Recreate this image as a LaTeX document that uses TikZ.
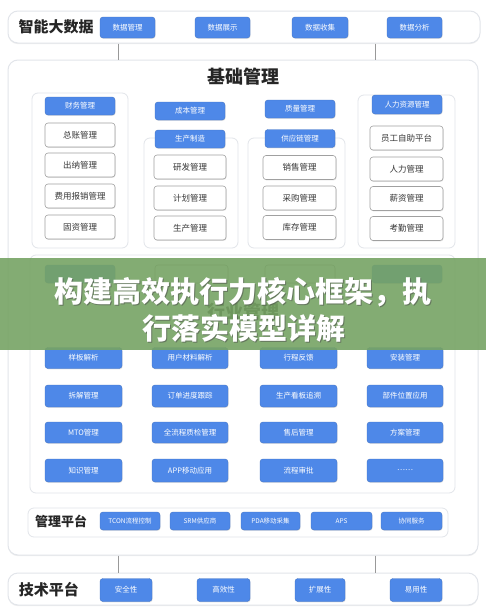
\documentclass[tikz,border=0pt]{standalone}
\usepackage{fontspec}
\setmainfont{Noto Sans CJK SC}
\usetikzlibrary{shadows}
\definecolor{btnblue}{RGB}{78,136,232}
\definecolor{panelline}{RGB}{226,229,234}
\definecolor{boxline}{RGB}{160,160,160}
\definecolor{bannergreen}{RGB}{118,163,100}
\definecolor{txt}{RGB}{55,55,55}
\tikzset{
  shade1/.style={drop shadow={opacity=0.22,shadow xshift=0.6pt,shadow yshift=-0.9pt}},
  bluebtn/.style={shade1,rounded corners=3pt,fill=btnblue,draw=btnblue!85!black,line width=0.4pt,text=white,font=\fontsize{7.5}{7.5}\selectfont,inner sep=0pt},
  whitebox/.style={shade1,rounded corners=3pt,fill=white,draw=boxline,line width=0.6pt,text=txt,font=\fontsize{8.5}{8.5}\selectfont,inner sep=0pt},
  panel/.style={rounded corners=6pt,draw=panelline,fill=white,line width=0.8pt},
  bar/.style={drop shadow={opacity=0.12,shadow xshift=0pt,shadow yshift=-1.2pt},rounded corners=10pt,draw=panelline,fill=white,line width=1pt},
  conn/.style={draw=gray!80,line width=0.8pt},
  bartitle/.style={font=\bfseries\fontsize{15}{15}\selectfont,text=black!85},
  sectitle/.style={font=\bfseries\fontsize{18}{18}\selectfont,text=black!85},
  bigtitle/.style={font=\bfseries\fontsize{29}{29}\selectfont,text=white},
  bigshadow/.style={font=\bfseries\fontsize{29}{29}\selectfont,text=black!70,opacity=0.55},
}
\begin{document}
\begin{tikzpicture}[x=1pt,y=-1pt]
\useasboundingbox[fill=white] (0,0) rectangle (486,616);
% top bar
\node[bar,minimum width=472pt,minimum height=32pt] (top) at (244,27) {};
\node[bartitle] (toptitle) at (56,27) {智能大数据};
\node[bluebtn,minimum width=55pt,minimum height=21pt] (t1) at (127.5,27.5) {数据管理};
\node[bluebtn,minimum width=55pt,minimum height=21pt] (t2) at (222.5,27.5) {数据展示};
\node[bluebtn,minimum width=56pt,minimum height=21pt] (t3) at (320,27.5) {数据收集};
\node[bluebtn,minimum width=55pt,minimum height=21pt] (t4) at (414.5,27.5) {数据分析};
% outer box
\node[bar,minimum width=470pt,minimum height=495pt] (outer) at (243,307.5) {};
\draw[conn] (top.south -| 118,0) -- (outer.north -| 118,0);
\draw[conn] (top.south -| 375,0) -- (outer.north -| 375,0);
\node[sectitle] (basetitle) at (243,77) {基础管理};
% base panels
\node[panel,minimum width=96pt,minimum height=155pt] (p1) at (80,170.5) {};
\node[panel,minimum width=94pt,minimum height=110pt] (p2) at (191,193) {};
\node[panel,minimum width=97pt,minimum height=110pt] (p3) at (296.5,193) {};
\node[panel,minimum width=97pt,minimum height=153pt] (p4) at (406.5,171.5) {};
% col1
\node[bluebtn,minimum width=70pt,minimum height=18pt] (h1) at (80,106) {财务管理};
\node[whitebox,minimum width=70pt,minimum height=24pt] (b11) at (80,135) {总账管理};
\node[whitebox,minimum width=70pt,minimum height=24pt] (b12) at (80,165) {出纳管理};
\node[whitebox,minimum width=70pt,minimum height=24pt] (b13) at (80,196) {费用报销管理};
\node[whitebox,minimum width=70pt,minimum height=24pt] (b14) at (80,227) {固资管理};
% col2
\node[bluebtn,minimum width=70pt,minimum height=18pt] (h21) at (190,111) {成本管理};
\node[bluebtn,minimum width=70pt,minimum height=18pt] (h22) at (190,139) {生产制造};
\node[whitebox,minimum width=72pt,minimum height=24pt] (b21) at (190,167) {研发管理};
\node[whitebox,minimum width=72pt,minimum height=24pt] (b22) at (190,198) {计划管理};
\node[whitebox,minimum width=72pt,minimum height=24pt] (b23) at (190,228) {生产管理};
% col3
\node[bluebtn,minimum width=70pt,minimum height=18pt] (h31) at (300,109) {质量管理};
\node[bluebtn,minimum width=70pt,minimum height=18pt] (h32) at (300,138.5) {供应链管理};
\node[whitebox,minimum width=73pt,minimum height=24pt] (b31) at (299.5,167.5) {销售管理};
\node[whitebox,minimum width=73pt,minimum height=24pt] (b32) at (299.5,198) {采购管理};
\node[whitebox,minimum width=73pt,minimum height=24pt] (b33) at (299.5,227.5) {库存管理};
% col4
\node[bluebtn,minimum width=70pt,minimum height=19pt] (h4) at (407,104.5) {人力资源管理};
\node[whitebox,minimum width=73pt,minimum height=24pt] (b41) at (406.5,138) {员工自助平台};
\node[whitebox,minimum width=73pt,minimum height=24pt] (b42) at (406.5,169) {人力管理};
\node[whitebox,minimum width=73pt,minimum height=24pt] (b43) at (406.5,198.5) {薪资管理};
\node[whitebox,minimum width=73pt,minimum height=24pt] (b44) at (406.5,228.5) {考勤管理};
% industry section
\node[panel,minimum width=425pt,minimum height=238pt] (ip) at (242.5,374) {};
\node[bluebtn,minimum width=70pt,minimum height=18pt] (g1) at (80,274) {};
\node[whitebox,minimum width=73pt,minimum height=18pt] (g2) at (191.5,274) {};
\node[whitebox,minimum width=70pt,minimum height=18pt] (g3) at (300,274) {};
\node[bluebtn,minimum width=70pt,minimum height=18pt] (g4) at (407,274) {};
\node[sectitle] (indtitle) at (243,312) {行业管理};
\node[bluebtn,minimum width=77pt,minimum height=21pt] (i11) at (83.5,358) {样板解析};
\node[bluebtn,minimum width=76pt,minimum height=21pt] (i12) at (190,358) {用户材料解析};
\node[bluebtn,minimum width=77pt,minimum height=21pt] (i13) at (298.5,358) {行程反馈};
\node[bluebtn,minimum width=76pt,minimum height=21pt] (i14) at (405,358) {安装管理};
\node[bluebtn,minimum width=77pt,minimum height=22pt] (i21) at (83.5,396) {拆解管理};
\node[bluebtn,minimum width=76pt,minimum height=22pt] (i22) at (190,396) {订单进度跟踪};
\node[bluebtn,minimum width=77pt,minimum height=22pt] (i23) at (298.5,396) {生产看板追溯};
\node[bluebtn,minimum width=76pt,minimum height=22pt] (i24) at (405,396) {部件位置应用};
\node[bluebtn,minimum width=77pt,minimum height=21pt] (i31) at (83.5,432.5) {MTO管理};
\node[bluebtn,minimum width=76pt,minimum height=21pt] (i32) at (190,432.5) {全流程质检管理};
\node[bluebtn,minimum width=77pt,minimum height=21pt] (i33) at (298.5,432.5) {售后管理};
\node[bluebtn,minimum width=76pt,minimum height=21pt] (i34) at (405,432.5) {方案管理};
\node[bluebtn,minimum width=77pt,minimum height=23pt] (i41) at (83.5,470.5) {知识管理};
\node[bluebtn,minimum width=76pt,minimum height=23pt] (i42) at (190,470.5) {APP移动应用};
\node[bluebtn,minimum width=77pt,minimum height=23pt] (i43) at (298.5,470.5) {流程审批};
\node[bluebtn,minimum width=76pt,minimum height=23pt] (i44) at (405,470.5) {……};
% management platform
\node[panel,minimum width=420pt,minimum height=29pt] (mp) at (238,522.5) {};
\node[font=\bfseries\fontsize{13}{13}\selectfont,text=black!85] (mptitle) at (61,521) {管理平台};
\node[bluebtn,minimum width=60pt,minimum height=18pt,font=\fontsize{6.5}{6.5}\selectfont] (m1) at (130,521) {TCON流程控制};
\node[bluebtn,minimum width=60pt,minimum height=18pt,font=\fontsize{6.5}{6.5}\selectfont] (m2) at (200,521) {SRM供应商};
\node[bluebtn,minimum width=59pt,minimum height=18pt,font=\fontsize{6.5}{6.5}\selectfont] (m3) at (270.5,521) {PDA移动采集};
\node[bluebtn,minimum width=61pt,minimum height=18pt,font=\fontsize{6.5}{6.5}\selectfont] (m4) at (341.5,521) {APS};
\node[bluebtn,minimum width=61pt,minimum height=18pt,font=\fontsize{6.5}{6.5}\selectfont] (m5) at (411.5,521) {协同服务};
% tech platform
\node[bar,minimum width=470pt,minimum height=32pt] (tech) at (243,589) {};
\draw[conn] (outer.south -| 118,0) -- (tech.north -| 118,0);
\draw[conn] (outer.south -| 375,0) -- (tech.north -| 375,0);
\node[bartitle] (techtitle) at (49,590) {技术平台};
\node[bluebtn,minimum width=52pt,minimum height=23pt] (s1) at (126,590) {安全性};
\node[bluebtn,minimum width=53pt,minimum height=23pt] (s2) at (223.5,590) {高效性};
\node[bluebtn,minimum width=50pt,minimum height=23pt] (s3) at (320,590) {扩展性};
\node[bluebtn,minimum width=52pt,minimum height=23pt] (s4) at (416,590) {易用性};
% banner
\node[fill=bannergreen,opacity=0.9,minimum width=486pt,minimum height=92pt,inner sep=0pt] (banner) at (243,304) {};
\node[bigshadow] (l1s) at (244.2,293.2) {构建高效执行力核心框架，执};
\node[bigshadow] (l2s) at (245.2,329.2) {行落实模型详解};
\node[bigtitle] (l1) at (243,292) {构建高效执行力核心框架，执};
\node[bigtitle] (l2) at (244,328) {行落实模型详解};
\end{tikzpicture}
\end{document}
